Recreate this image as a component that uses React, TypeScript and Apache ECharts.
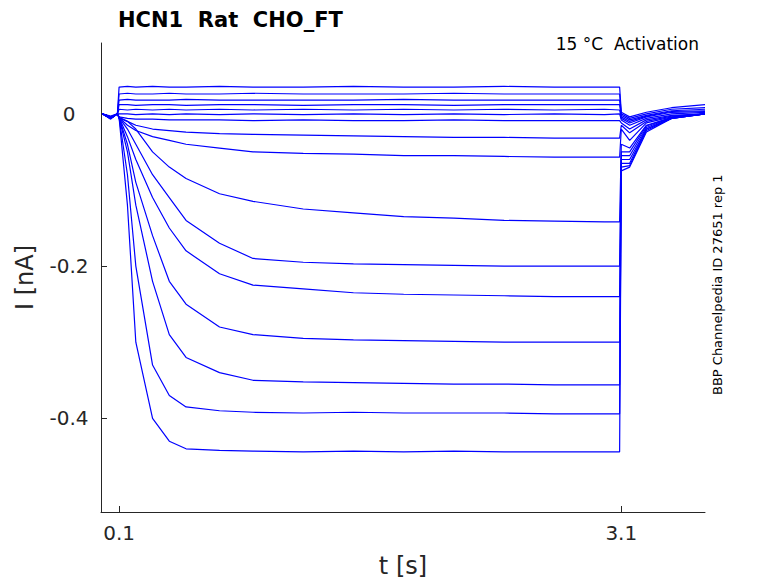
import React, { useEffect, useRef } from "react";
import * as echarts from "echarts";

const times = [0, 0.05, 0.09, 0.1, 0.15, 0.2, 0.3, 0.4, 0.5, 0.7, 0.9, 1.2, 1.5, 1.8, 2.1, 2.4, 2.7, 3.0, 3.09, 3.1, 3.15, 3.25, 3.4, 3.6];

const traces: number[][] = [
  [0, -0.004, 0, 0.035, 0.036, 0.035, 0.036, 0.035, 0.035, 0.036, 0.035, 0.035, 0.036, 0.035, 0.035, 0.036, 0.035, 0.035, 0.035, 0.002, -0.004, 0.002, 0.008, 0.012],
  [0, -0.003, 0, 0.026, 0.027, 0.026, 0.026, 0.027, 0.026, 0.026, 0.027, 0.026, 0.026, 0.026, 0.027, 0.026, 0.026, 0.026, 0.026, 0.0, -0.006, 0.0, 0.006, 0.008],
  [0, -0.004, 0, 0.018, 0.019, 0.018, 0.018, 0.018, 0.019, 0.018, 0.018, 0.018, 0.018, 0.019, 0.018, 0.018, 0.018, 0.018, 0.018, -0.002, -0.008, -0.002, 0.004, 0.006],
  [0, -0.005, 0, 0.012, 0.012, 0.011, 0.012, 0.012, 0.011, 0.012, 0.012, 0.011, 0.012, 0.012, 0.011, 0.012, 0.012, 0.012, 0.012, -0.004, -0.01, -0.003, 0.003, 0.004],
  [0, -0.005, 0, 0.006, 0.005, 0.006, 0.005, 0.006, 0.005, 0.006, 0.005, 0.006, 0.005, 0.006, 0.005, 0.006, 0.005, 0.006, 0.005, -0.006, -0.012, -0.004, 0.002, 0.003],
  [0, -0.006, 0, 0.0, 0.0, -0.001, 0.0, -0.001, 0.0, -0.001, 0.0, -0.001, 0.0, -0.001, 0.0, -0.001, 0.0, -0.001, 0.0, -0.008, -0.015, -0.006, 0.0, 0.002],
  [0, -0.006, 0, -0.004, -0.006, -0.007, -0.007, -0.008, -0.008, -0.008, -0.009, -0.008, -0.009, -0.009, -0.008, -0.009, -0.009, -0.009, -0.009, -0.012, -0.02, -0.008, -0.002, 0.0],
  [0, -0.007, 0, -0.005, -0.01, -0.015, -0.02, -0.022, -0.024, -0.026, -0.027, -0.028, -0.029, -0.03, -0.031, -0.031, -0.032, -0.032, -0.032, -0.015, -0.025, -0.01, -0.003, 0.0],
  [0, -0.006, 0, -0.005, -0.015, -0.022, -0.03, -0.035, -0.04, -0.045, -0.05, -0.052, -0.053, -0.055, -0.055, -0.056, -0.057, -0.057, -0.057, -0.02, -0.035, -0.012, -0.004, 0.0],
  [0, -0.006, 0, -0.005, -0.01, -0.02, -0.05, -0.07, -0.085, -0.105, -0.115, -0.125, -0.13, -0.135, -0.137, -0.14, -0.141, -0.142, -0.142, -0.04, -0.045, -0.015, -0.005, 0.0],
  [0, -0.006, 0, -0.005, -0.02, -0.04, -0.08, -0.11, -0.14, -0.17, -0.19, -0.195, -0.197, -0.198, -0.199, -0.2, -0.2, -0.2, -0.2, -0.05, -0.05, -0.016, -0.005, 0.0],
  [0, -0.006, 0, -0.005, -0.03, -0.06, -0.11, -0.15, -0.18, -0.21, -0.225, -0.23, -0.235, -0.237, -0.238, -0.239, -0.24, -0.24, -0.24, -0.055, -0.055, -0.018, -0.005, 0.0],
  [0, -0.006, 0, -0.005, -0.04, -0.09, -0.16, -0.22, -0.25, -0.28, -0.29, -0.295, -0.297, -0.298, -0.299, -0.3, -0.3, -0.3, -0.3, -0.06, -0.06, -0.02, -0.006, 0.0],
  [0, -0.006, 0, -0.005, -0.05, -0.12, -0.22, -0.29, -0.32, -0.34, -0.35, -0.352, -0.353, -0.354, -0.355, -0.355, -0.356, -0.356, -0.356, -0.065, -0.065, -0.02, -0.006, 0.0],
  [0, -0.006, 0, -0.005, -0.08, -0.2, -0.33, -0.37, -0.385, -0.39, -0.392, -0.393, -0.392, -0.393, -0.393, -0.393, -0.394, -0.394, -0.394, -0.07, -0.068, -0.022, -0.006, 0.0],
  [0, -0.006, 0, -0.005, -0.12, -0.3, -0.4, -0.43, -0.44, -0.442, -0.443, -0.444, -0.443, -0.444, -0.443, -0.444, -0.444, -0.444, -0.444, -0.075, -0.07, -0.024, -0.006, 0.0],
];

const xTicks = [0.1, 3.1];
const yTicks = [-0.4, -0.2, 0];

export default function App() {
  const ref = useRef<HTMLDivElement>(null);
  useEffect(() => {
    const chart = echarts.init(ref.current!, null, { renderer: "svg" });
    const font = "DejaVu Sans";
    chart.setOption({
      animation: false,
      textStyle: { fontFamily: font },
      title: [
        { text: "HCN1  Rat  CHO_FT", left: 113, top: 4, textStyle: { fontFamily: font, fontWeight: "bold", fontSize: 21, color: "#000" } },
        { text: "15 °C  Activation", right: 74, top: 30, textStyle: { fontFamily: font, fontWeight: "normal", fontSize: 17, color: "#000" } },
      ],
      graphic: [
        { type: "text", x: 711, y: 395, rotation: Math.PI / 2, style: { text: "BBP Channelpedia ID 27651 rep 1", font: "13px DejaVu Sans", fill: "#000" } },
      ],
      grid: { left: 101, right: 73, top: 43, bottom: 69 },
      xAxis: {
        type: "value", min: -0.008, max: 3.6, name: "t [s]", nameLocation: "middle", nameGap: 42,
        nameTextStyle: { fontSize: 24, color: "#262626", fontFamily: font },
        axisLine: { onZero: false, lineStyle: { color: "#262626" } },
        axisTick: { inside: true, length: 6, customValues: xTicks, lineStyle: { color: "#262626" } },
        axisLabel: { customValues: xTicks, fontSize: 20, color: "#262626", margin: 11, formatter: (v: number) => v.toFixed(1) },
        splitLine: { show: false },
      },
      yAxis: {
        type: "value", min: -0.523, max: 0.093, name: "I [nA]", nameLocation: "middle", nameGap: 64,
        nameTextStyle: { fontSize: 24, color: "#262626", fontFamily: font },
        axisLine: { show: true, onZero: false, lineStyle: { color: "#262626" } },
        axisTick: { show: true, inside: true, length: 6, customValues: yTicks, lineStyle: { color: "#262626" } },
        axisLabel: { customValues: yTicks, fontSize: 20, color: "#262626", margin: 32, align: "center", formatter: (v: number) => (v === 0 ? "0" : String(Math.round(v * 10) / 10)) },
        splitLine: { show: false },
      },
      series: traces.map((tr, i) => ({
        type: "line", name: "s" + i, showSymbol: false, silent: true,
        lineStyle: { color: "#0000ff", width: 1.2 },
        data: tr.map((v, j) => [times[j], v]),
      })),
    });
    return () => chart.dispose();
  }, []);
  return <div ref={ref} style={{ position: "absolute", left: 0, top: 0, width: 778, height: 583 }} />;
}
